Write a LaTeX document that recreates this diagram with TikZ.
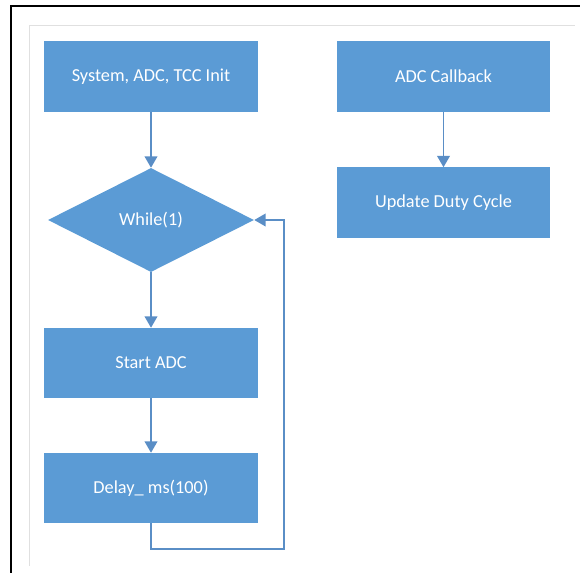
\documentclass[tikz,border=0pt]{standalone}
\usepackage{fontspec}
\setmainfont{Carlito}
\usetikzlibrary{shapes.geometric,arrows.meta}
\definecolor{flowblue}{HTML}{5B9BD5}
\definecolor{linkblue}{HTML}{5A8EC6}
\begin{document}
\begin{tikzpicture}[x=0.025cm,y=-0.025cm,
	blk/.style={rectangle,fill=flowblue,text=white,minimum width=5.325cm,minimum height=1.75cm,inner sep=0pt,font=\fontsize{13}{15}\selectfont},
	cond/.style={diamond,fill=flowblue,text=white,minimum width=5.15cm,minimum height=2.6cm,aspect=2,inner sep=0pt,font=\fontsize{13}{15}\selectfont},
	link/.style={linkblue,line width=1pt,-{Triangle[width=9pt,length=8pt]}}]
	\useasboundingbox (0,0) rectangle (580,573);
	\def\xL{151};
	\def\xR{443.5};
	\def\xLoop{284};
	\def\yLoop{549};
	% frame
	\draw[line width=1.4pt] (11,573)--(11,6)--(580,6);
	\draw[black!12,thin] (29,566)--(29,25)--(575,25);
	% main loop
	\node[blk] (init) at (\xL,76.5) {System, ADC, TCC Init};
	\node[cond] (while) at (\xL,220) {While(1)};
	\node[blk] (start) at (\xL,363) {Start ADC};
	\node[blk] (delay) at (\xL,488) {Delay\_ ms(100)};
	\coordinate (loopA) at (\xL,\yLoop);
	\coordinate (loopB) at (\xLoop,\yLoop);
	\coordinate (loopC) at (\xLoop,220);
	\draw[link] (init)--(while);
	\draw[link] (while)--(start);
	\draw[link] (start)--(delay);
	\draw[link] (delay.south)--(loopA)--(loopB)--(loopC)--(while.east);
	% callback
	\node[blk] (callback) at (\xR,76.5) {ADC Callback};
	\node[blk] (duty) at (\xR,202.5) {Update Duty Cycle};
	\draw[link] (callback)--(duty);
\end{tikzpicture}
\end{document}
